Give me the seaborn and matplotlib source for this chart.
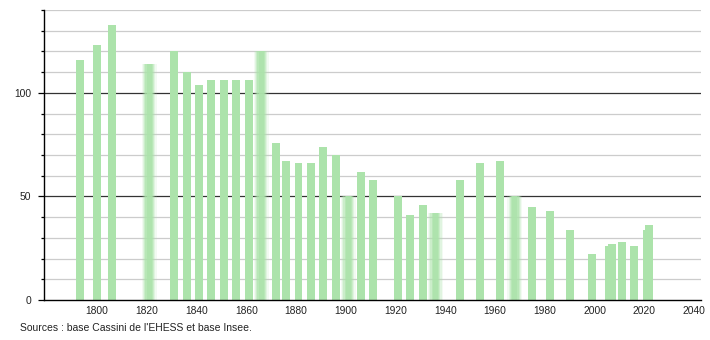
import numpy as np
import pandas as pd
import matplotlib
matplotlib.use("Agg")
import matplotlib.pyplot as plt
import seaborn as sns

years = [1793, 1800, 1806, 1821, 1831, 1836, 1841, 1846, 1851, 1856, 1861, 1866,
         1872, 1876, 1881, 1886, 1891, 1896, 1901, 1906, 1911, 1921, 1926, 1931,
         1936, 1946, 1954, 1962, 1968, 1975, 1982, 1990, 1999, 2006, 2007, 2011,
         2016, 2021, 2022]
population = [116, 123, 133, 114, 120, 110, 104, 106, 106, 106, 106, 120,
              76, 67, 66, 66, 74, 70, 50, 62, 58, 50, 41, 46,
              42, 58, 66, 67, 50, 45, 43, 34, 22, 26, 27, 28,
              26, 34, 36]
blurred_years = [1821, 1866, 1901, 1936, 1968]
x_ticks = [1800, 1820, 1840, 1860, 1880, 1900, 1920, 1940, 1960, 1980, 2000, 2020, 2040]
y_labels = [0, 50, 100]
source_text = "Sources : base Cassini de l'EHESS et base Insee."

sns.set_theme(style="white")
plt.rcParams['font.family'] = ['Liberation Sans', 'DejaVu Sans']

df = pd.DataFrame({"year": years, "pop": population})
df["blur"] = df["year"].isin(blurred_years)
sharp = df[~df["blur"]]
fuzzy = df[df["blur"]]

bar_color = "#ace3ab"
bar_w = 3.2  # in years

fig = plt.figure(figsize=(7.1, 3.4), dpi=100)
ax = fig.add_axes([44 / 710, 40 / 340, (701 - 44) / 710, (300 - 10) / 340])

def min_gap(vals):
    v = np.sort(np.unique(vals))
    return np.min(np.diff(v)) if len(v) > 1 else 1.0

g_sharp = min_gap(sharp["year"])
sns.barplot(data=sharp, x="year", y="pop", native_scale=True, ax=ax,
            color=bar_color, saturation=1, width=bar_w / g_sharp,
            errorbar=None, linewidth=0, zorder=3)

g_fuzzy = min_gap(fuzzy["year"])
for w, a in [(6.0, 0.15), (5.0, 0.25), (4.0, 0.4), (3.0, 0.6), (2.0, 0.8)]:
    sns.barplot(data=fuzzy, x="year", y="pop", native_scale=True, ax=ax,
                color=bar_color, saturation=1, width=w / g_fuzzy, alpha=a,
                errorbar=None, linewidth=0, zorder=3)

ax.set_xlim(1778.7, 2042.8)
ax.set_ylim(0, 140)
ax.set_xticks(x_ticks)
ax.set_xticklabels([str(t) for t in x_ticks])
ax.set_yticks(y_labels)
ax.set_yticklabels([str(t) for t in y_labels])
ax.set_yticks([v for v in range(10, 141, 10) if v not in (50, 100)], minor=True)

ax.grid(False)
for v in range(10, 141, 10):
    if v in (50, 100):
        ax.axhline(v, color="#333333", lw=0.9, zorder=2)
    else:
        ax.axhline(v, color="#cccccc", lw=0.9, zorder=2)

for s in ["top", "right"]:
    ax.spines[s].set_visible(False)
for s in ["left", "bottom"]:
    ax.spines[s].set_color("black")
    ax.spines[s].set_linewidth(1.0)
    ax.spines[s].set_zorder(4)

ax.tick_params(axis="y", which="major", length=4, width=0.9, color="black",
               labelsize=7.4, pad=5, left=True, labelcolor="#222222")
ax.tick_params(axis="y", which="minor", length=2.5, width=0.9, color="black", left=True)
ax.tick_params(axis="x", length=0, labelsize=7.4, pad=4, labelcolor="#222222")
ax.set_xlabel("")
ax.set_ylabel("")

fig.text(20 / 710, 1 - 328 / 340, source_text, fontsize=7.5, color="#222222",
         va="center", ha="left")

fig.savefig("out.png", dpi=100)
